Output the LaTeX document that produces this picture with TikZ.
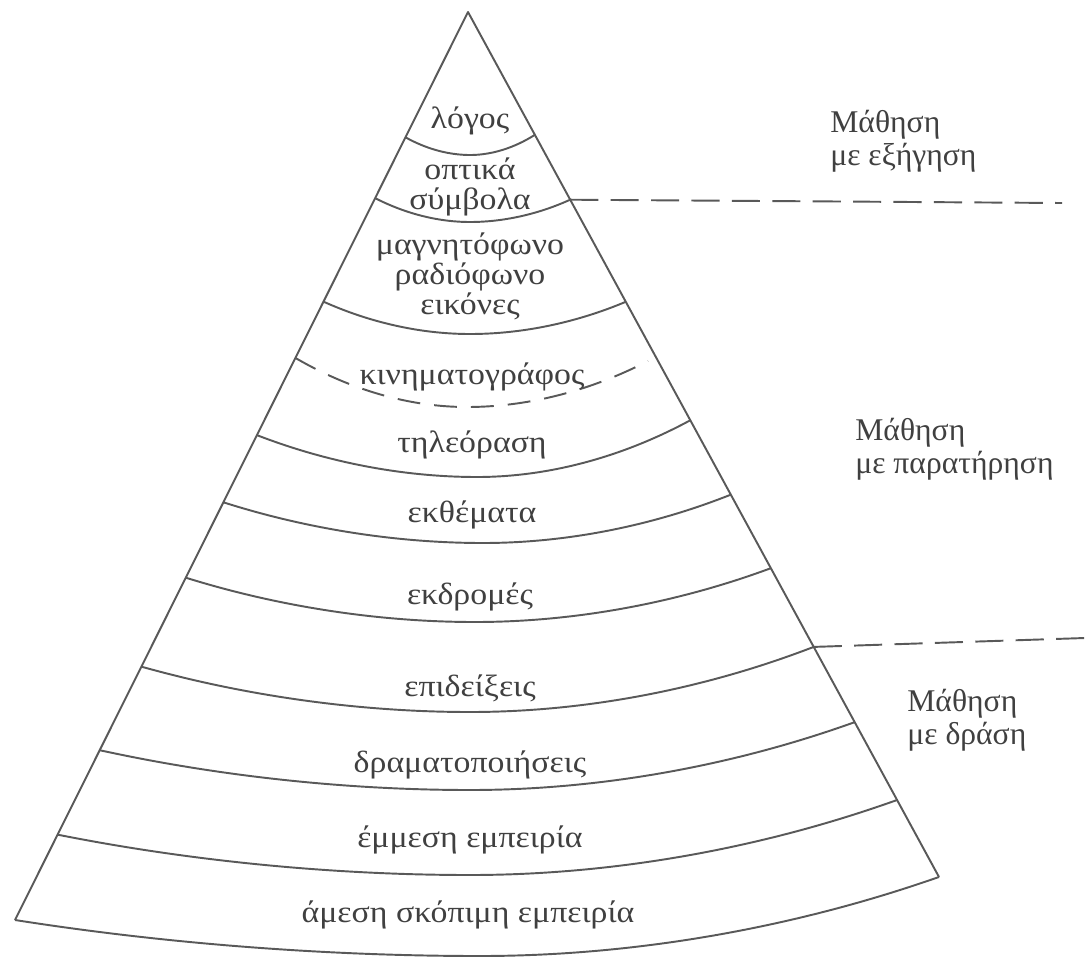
\documentclass[tikz,border=0pt]{standalone}
\usepackage{fontspec}
\setmainfont{Liberation Serif}
\newfontfamily\grk[FakeStretch=1.1]{Liberation Serif}
\usetikzlibrary{calc}
\tikzset{
layer/.style={draw=black!65, line width=1.1pt},
cut/.style={draw=black!65, line width=1.1pt, dash pattern=on 16pt off 7pt},
lbl/.style={align=center, inner sep=0pt, text=black!75,
  font=\grk\fontsize{17.5}{14.5}\selectfont},
side/.style={align=left, anchor=west, inner sep=0pt, text=black!75,
  font=\fontsize{18}{19}\selectfont}
}

\begin{document}
\begin{tikzpicture}[x=0.02cm,y=-0.02cm]
\useasboundingbox (0,0) rectangle (1089,964);
\coordinate (top) at (468,12);
\coordinate (bl) at (15,920);
\coordinate (br) at (939,877);
\draw[layer,line join=round] (bl) -- (top) -- (br);
% layer borders
\foreach \n/\tl/\tr/\bx/\by in {1/0.138/0.142/470/155, 2/0.205/0.217/470/222,
  3/0.319/0.335/470/334, 5/0.466/0.472/477/477, 6/0.540/0.558/483/543,
  7/0.623/0.643/475/622, 8/0.721/0.734/470/712, 9/0.813/0.821/470/790,
  10/0.906/0.911/470/875}{
  \coordinate (l\n) at ($(top)!\tl!(bl)$);
  \coordinate (r\n) at ($(top)!\tr!(br)$);
  \draw[layer] (l\n) parabola bend (\bx,\by) (r\n);
}
\draw[layer] (bl) parabola bend (480,956) (br);
\coordinate (l4) at ($(top)!0.381!(bl)$);
\coordinate (r4) at (648,361);
\draw[cut,dash pattern=on 13pt off 8pt] (l4) parabola bend (467,407) (r4);
% right side
\coordinate (e1) at (1062,203);
\coordinate (e2) at (1085,638);
\draw[cut] (r2) -- (e1);
\draw[cut] (r8) -- (e2);

\node[lbl] (logos) at (470,121) {λόγος};
\node[lbl] (optika) at (470,187) {οπτικά\\[2.5pt]σύμβολα};
\node[lbl] (magn) at (470,276) {μαγνητόφωνο\\ραδιόφωνο\\εικόνες};
\node[lbl] (kinim) at (472,377) {κινηματογράφος};
\node[lbl] (tileor) at (472,445) {τηλεόραση};
\node[lbl] (ekthem) at (472,515) {εκθέματα};
\node[lbl] (ekdrom) at (470,597) {εκδρομές};
\node[lbl] (epid) at (470,688) {επιδείξεις};
\node[lbl] (drama) at (470,765) {δραματοποιήσεις};
\node[lbl] (emmesi) at (470,840) {έμμεση εμπειρία};
\node[lbl] (amesi) at (468,915) {άμεση σκόπιμη εμπειρία};

\node[side] (exig) at (830,141) {Μάθηση\\με εξήγηση};
\node[side] (parat) at (855,449) {Μάθηση\\με παρατήρηση};
\node[side] (drasi) at (907,720) {Μάθηση\\με δράση};
\end{tikzpicture}
\end{document}
